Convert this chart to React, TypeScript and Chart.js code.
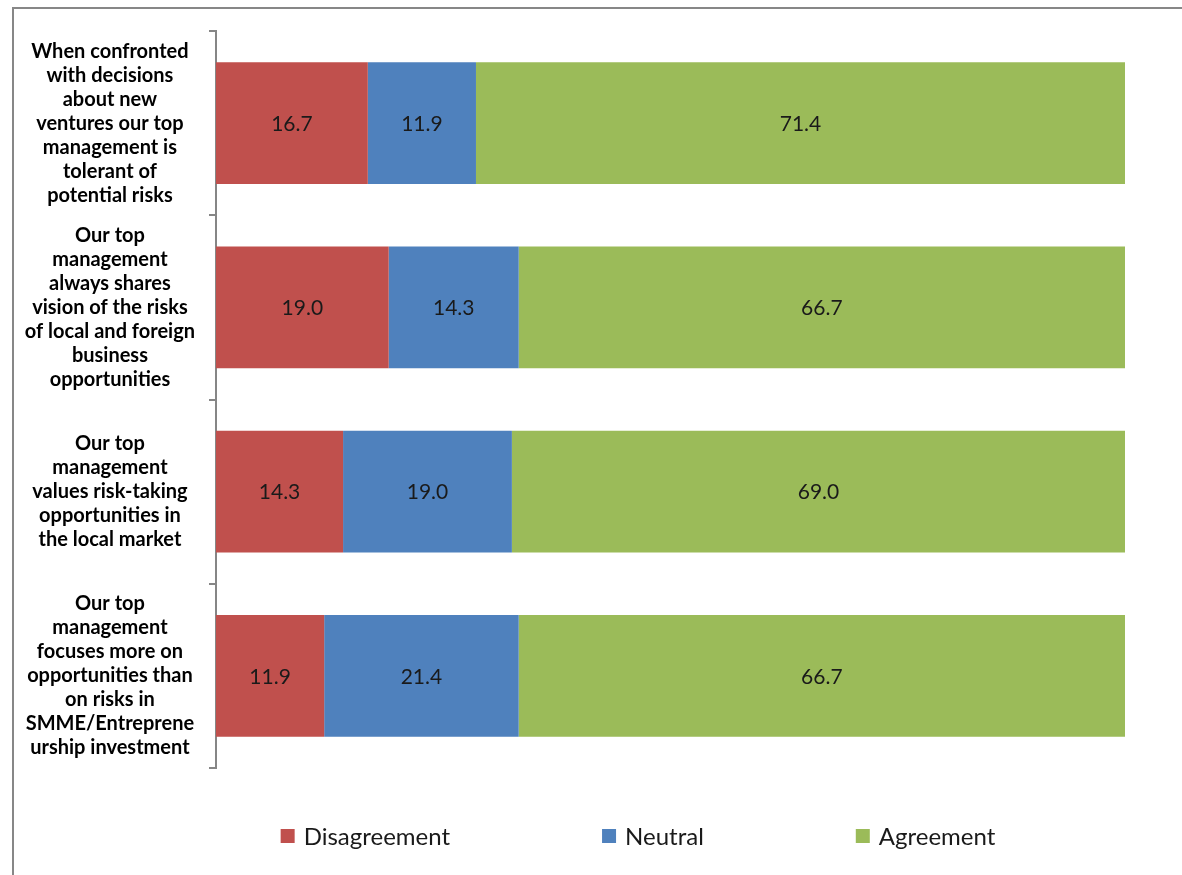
import React, { useEffect, useRef } from "react";
import { Chart, registerables } from "chart.js";

Chart.register(...registerables);

// Survey statements (wrapped into display lines)
const statements: string[][] = [
  [
    "When confronted",
    "with decisions",
    "about new",
    "ventures our top",
    "management is",
    "tolerant of",
    "potential risks",
  ],
  [
    "Our top",
    "management",
    "always shares",
    "vision of the risks",
    "of local and foreign",
    "business",
    "opportunities",
  ],
  [
    "Our top",
    "management",
    "values risk-taking",
    "opportunities in",
    "the local market",
  ],
  [
    "Our top",
    "management",
    "focuses more on",
    "opportunities than",
    "on risks in",
    "SMME/Entreprene",
    "urship investment",
  ],
];

// Response shares (%)
const disagreement = [16.7, 19.0, 14.3, 11.9];
const neutral = [11.9, 14.3, 19.0, 21.4];
const agreement = [71.4, 66.7, 69.0, 66.7];

const seriesNames = ["Disagreement", "Neutral", "Agreement"];
const seriesColors = ["#C0504D", "#4F81BD", "#9BBB59"];
const seriesValues = [disagreement, neutral, agreement];

const FONT = "Lato, 'Open Sans', sans-serif";

// Each row is drawn as a 100% stacked bar: segment length = value / row total
const rowTotals = statements.map((_, i) =>
  seriesValues.reduce((sum, s) => sum + s[i], 0)
);

const valueLabels = {
  id: "valueLabels",
  afterDatasetsDraw(chart: any) {
    const { ctx } = chart;
    ctx.save();
    ctx.font = `21px ${FONT}`;
    ctx.fillStyle = "#1a1a1a";
    ctx.textAlign = "center";
    ctx.textBaseline = "middle";
    chart.data.datasets.forEach((_: any, di: number) => {
      const meta = chart.getDatasetMeta(di);
      meta.data.forEach((bar: any, i: number) => {
        const { x, y } = bar.getCenterPoint();
        ctx.fillText(seriesValues[di][i].toFixed(1), x, y + 1);
      });
    });
    ctx.restore();
  },
};

const bottomLegend = {
  id: "bottomLegend",
  afterDraw(chart: any) {
    const { ctx, chartArea } = chart;
    const box = 14;
    const textGap = 9;
    const itemGap = 152;
    ctx.save();
    ctx.font = `24px ${FONT}`;
    const widths = seriesNames.map(
      (n) => box + textGap + ctx.measureText(n).width
    );
    const total =
      widths.reduce((a, b) => a + b, 0) + itemGap * (seriesNames.length - 1);
    let x = chart.width / 2 + 40 - total / 2;
    const y = chartArea.bottom + 68;
    ctx.textAlign = "left";
    ctx.textBaseline = "middle";
    seriesNames.forEach((name, i) => {
      ctx.fillStyle = seriesColors[i];
      ctx.fillRect(x, y - box / 2, box, box);
      ctx.fillStyle = "#1a1a1a";
      ctx.fillText(name, x + box + textGap, y + 1);
      x += widths[i] + itemGap;
    });
    ctx.restore();
  },
};

export default function App() {
  const canvasRef = useRef<HTMLCanvasElement | null>(null);

  useEffect(() => {
    if (!canvasRef.current) return;
    const chart = new Chart(canvasRef.current, {
      type: "bar",
      data: {
        labels: statements,
        datasets: seriesNames.map((name, di) => ({
          label: name,
          data: seriesValues[di].map((v, i) => (v / rowTotals[i]) * 100),
          backgroundColor: seriesColors[di],
          borderWidth: 0,
          barPercentage: 0.662,
          categoryPercentage: 1,
        })),
      },
      options: {
        indexAxis: "y",
        responsive: false,
        animation: false,
        layout: { padding: { left: 0, top: 22, right: 57, bottom: 107 } },
        plugins: {
          legend: { display: false },
          tooltip: { enabled: false },
        },
        scales: {
          x: {
            display: false,
            stacked: true,
            min: 0,
            max: 100,
          },
          y: {
            stacked: true,
            border: { display: true, color: "#868686", width: 2 },
            grid: {
              drawOnChartArea: false,
              drawTicks: true,
              tickLength: 7,
              color: "#868686",
              lineWidth: 2,
              offset: true,
            },
            ticks: {
              autoSkip: false,
              crossAlign: "center",
              padding: 14,
              color: "#000",
              font: { family: FONT, size: 20, weight: "bold", lineHeight: "24px" },
            },
            afterFit(scale: any) {
              scale.width = 202;
              scale.paddingTop = 0;
              scale.paddingBottom = 0;
            },
          },
        },
      },
      plugins: [valueLabels, bottomLegend],
    } as any);
    return () => chart.destroy();
  }, []);

  return (
    <div
      style={{
        position: "absolute",
        left: 12,
        top: 7,
        width: 1170,
        height: 868,
        boxSizing: "border-box",
        borderTop: "2px solid #878787",
        borderLeft: "2px solid #878787",
        overflow: "hidden",
        background: "#fff",
      }}
    >
      <canvas ref={canvasRef} width={1168} height={866} style={{ display: "block" }} />
    </div>
  );
}
